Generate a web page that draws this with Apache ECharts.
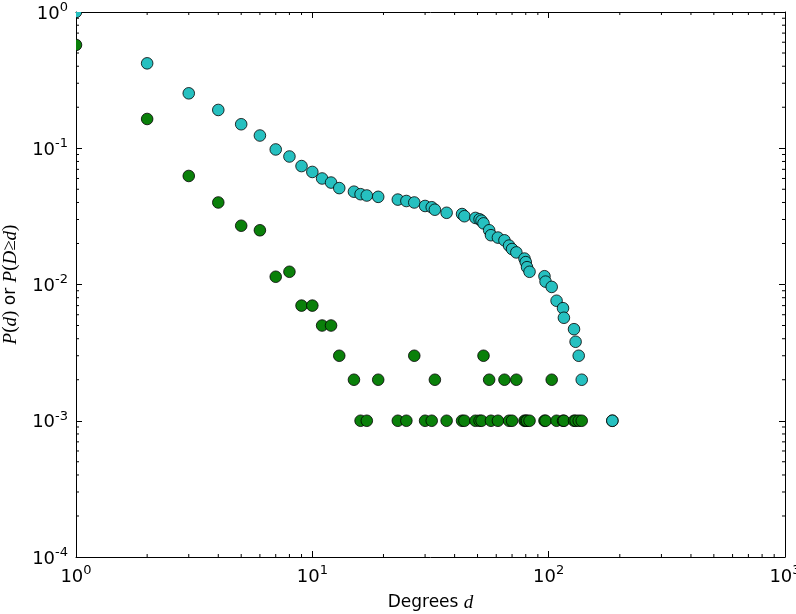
<!DOCTYPE html>
<html>
<head>
<meta charset="utf-8">
<script src="https://cdn.jsdelivr.net/npm/echarts@6/dist/echarts.min.js"></script>
<style>
  html, body { margin: 0; padding: 0; background: #fff; }
  #chart { width: 796px; height: 614px; }
</style>
</head>
<body>
<div id="chart"></div>
<script>
// node degrees present in the network
var degrees = [1, 2, 3, 4, 5, 6, 7, 8, 9, 10, 11, 12, 13, 15, 16, 17, 19, 23, 25, 27,
  30, 32, 33, 37, 43, 44, 49, 51, 52, 53, 56, 57, 61, 65, 68, 70, 73, 79, 80, 81,
  83, 96, 97, 103, 108, 115, 116, 128, 130, 134, 138, 186];

// P(d) -- green
var probDegree = [0.573, 0.164, 0.0626, 0.040, 0.027, 0.025, 0.0114, 0.0124, 0.007, 0.007,
  0.005, 0.005, 0.003, 0.002, 0.001, 0.001, 0.002, 0.001, 0.001, 0.003,
  0.001, 0.001, 0.002, 0.001, 0.001, 0.001, 0.001, 0.001, 0.001, 0.003,
  0.002, 0.001, 0.001, 0.002, 0.001, 0.001, 0.002, 0.001, 0.001, 0.001,
  0.001, 0.001, 0.001, 0.002, 0.001, 0.001, 0.001, 0.001, 0.001, 0.001, 0.001, 0.001];

// P(D >= d) -- cyan
var probAtLeast = [1.0, 0.42, 0.253, 0.191, 0.150, 0.124, 0.098, 0.087, 0.074, 0.067,
  0.060, 0.056, 0.051, 0.048, 0.046, 0.045, 0.044, 0.042, 0.041, 0.040,
  0.0377, 0.0369, 0.0354, 0.0336, 0.0329, 0.0317, 0.0308, 0.0301, 0.0294, 0.0281,
  0.025, 0.023, 0.0221, 0.0211, 0.0193, 0.0182, 0.0172, 0.0155, 0.0146, 0.0134,
  0.0124, 0.0115, 0.0105, 0.0096, 0.0076, 0.0067, 0.0057, 0.0047, 0.0038, 0.003, 0.002, 0.001];

// minor ticks (matplotlib style, at 2..9 of each decade)
var xMinorTicks = [2, 3, 4, 5, 6, 7, 8, 9, 20, 30, 40, 50, 60, 70, 80, 90,
  200, 300, 400, 500, 600, 700, 800, 900];
var yMinorTicks = [2e-4, 3e-4, 4e-4, 5e-4, 6e-4, 7e-4, 8e-4, 9e-4,
  2e-3, 3e-3, 4e-3, 5e-3, 6e-3, 7e-3, 8e-3, 9e-3,
  0.02, 0.03, 0.04, 0.05, 0.06, 0.07, 0.08, 0.09,
  0.2, 0.3, 0.4, 0.5, 0.6, 0.7, 0.8, 0.9];

var X_MIN = 1, X_MAX = 1000, Y_MIN = 1e-4, Y_MAX = 1;

var chart = echarts.init(document.getElementById('chart'), null, { renderer: 'canvas' });

var powRich = {
  b: { fontFamily: 'DejaVu Sans', fontSize: 18, color: '#000', lineHeight: 22, verticalAlign: 'bottom' },
  e: { fontFamily: 'DejaVu Sans', fontSize: 13, color: '#000', lineHeight: 13, verticalAlign: 'top' }
};
function powLabel(v) {
  var e = Math.round(Math.log10(v));
  return '{b|10}{e|' + e + '}';
}

function dotSeries(values, color) {
  return {
    type: 'custom',
    clip: true,
    data: degrees.map(function (d, i) { return [d, values[i]]; }),
    renderItem: function (params, api) {
      var p = api.coord([api.value(0), api.value(1)]);
      return {
        type: 'circle',
        shape: { cx: p[0], cy: p[1], r: 5.8 },
        style: { fill: color, stroke: '#000', lineWidth: 0.8 }
      };
    }
  };
}

var tickStyle = { stroke: '#000', lineWidth: 1 };
var MINOR = 3;

var option = {
  animation: false,
  backgroundColor: '#fff',
  grid: { left: 76, right: 11, top: 12, bottom: 57, containLabel: false, outerBoundsMode: 'none' },
  xAxis: [
    {
      type: 'log', logBase: 10, min: X_MIN, max: X_MAX, position: 'bottom',
      axisLine: { show: true, lineStyle: { color: '#000', width: 1 } },
      axisTick: { inside: true, length: 6, lineStyle: { color: '#000' } },
      axisLabel: { formatter: powLabel, rich: powRich, margin: 7 },
      splitLine: { show: false },
      name: '{r|Degrees }{i|d}',
      nameLocation: 'middle',
      nameGap: 36,
      nameTextStyle: {
        rich: {
          r: { fontFamily: 'DejaVu Sans', fontSize: 17, color: '#000' },
          i: { fontFamily: 'Liberation Serif', fontStyle: 'italic', fontSize: 19, color: '#000' }
        }
      }
    },
    {
      type: 'log', logBase: 10, min: X_MIN, max: X_MAX, position: 'top',
      axisLine: { show: true, lineStyle: { color: '#000', width: 1 } },
      axisTick: { inside: true, length: 6, lineStyle: { color: '#000' } },
      axisLabel: { show: false },
      splitLine: { show: false }
    }
  ],
  yAxis: [
    {
      type: 'log', logBase: 10, min: Y_MIN, max: Y_MAX, position: 'left',
      axisLine: { show: true, lineStyle: { color: '#000', width: 1 } },
      axisTick: { inside: true, length: 6, lineStyle: { color: '#000' } },
      axisLabel: { formatter: powLabel, rich: powRich, margin: 8 },
      splitLine: { show: false },
      name: '{i|P}{u|(}{i|d}{u|)}{r| or }{i|P}{u|(}{i|D}{u|≥}{i|d}{u|)}',
      nameLocation: 'middle',
      nameRotate: 90,
      nameGap: 56,
      nameTextStyle: {
        rich: {
          r: { fontFamily: 'DejaVu Sans', fontSize: 17, color: '#000' },
          i: { fontFamily: 'Liberation Serif', fontStyle: 'italic', fontSize: 19, color: '#000' },
          u: { fontFamily: 'Liberation Serif', fontSize: 19, color: '#000' }
        }
      }
    },
    {
      type: 'log', logBase: 10, min: Y_MIN, max: Y_MAX, position: 'right',
      axisLine: { show: true, lineStyle: { color: '#000', width: 1 } },
      axisTick: { inside: true, length: 6, lineStyle: { color: '#000' } },
      axisLabel: { show: false },
      splitLine: { show: false }
    }
  ],
  series: [
    // minor ticks on bottom and top edges
    {
      type: 'custom', clip: false, silent: true,
      data: xMinorTicks.map(function (v) { return [v, Y_MIN]; }),
      renderItem: function (params, api) {
        var b = api.coord([api.value(0), Y_MIN]);
        var t = api.coord([api.value(0), Y_MAX]);
        return {
          type: 'group',
          children: [
            { type: 'line', shape: { x1: b[0], y1: b[1], x2: b[0], y2: b[1] - MINOR }, style: tickStyle },
            { type: 'line', shape: { x1: t[0], y1: t[1], x2: t[0], y2: t[1] + MINOR }, style: tickStyle }
          ]
        };
      }
    },
    // minor ticks on left and right edges
    {
      type: 'custom', clip: false, silent: true,
      data: yMinorTicks.map(function (v) { return [X_MIN, v]; }),
      renderItem: function (params, api) {
        var l = api.coord([X_MIN, api.value(1)]);
        var r = api.coord([X_MAX, api.value(1)]);
        return {
          type: 'group',
          children: [
            { type: 'line', shape: { x1: l[0], y1: l[1], x2: l[0] + MINOR, y2: l[1] }, style: tickStyle },
            { type: 'line', shape: { x1: r[0], y1: r[1], x2: r[0] - MINOR, y2: r[1] }, style: tickStyle }
          ]
        };
      }
    },
    dotSeries(probDegree, '#0a800a'),
    dotSeries(probAtLeast, '#26c0c0')
  ]
};

chart.setOption(option);
</script>
</body>
</html>
